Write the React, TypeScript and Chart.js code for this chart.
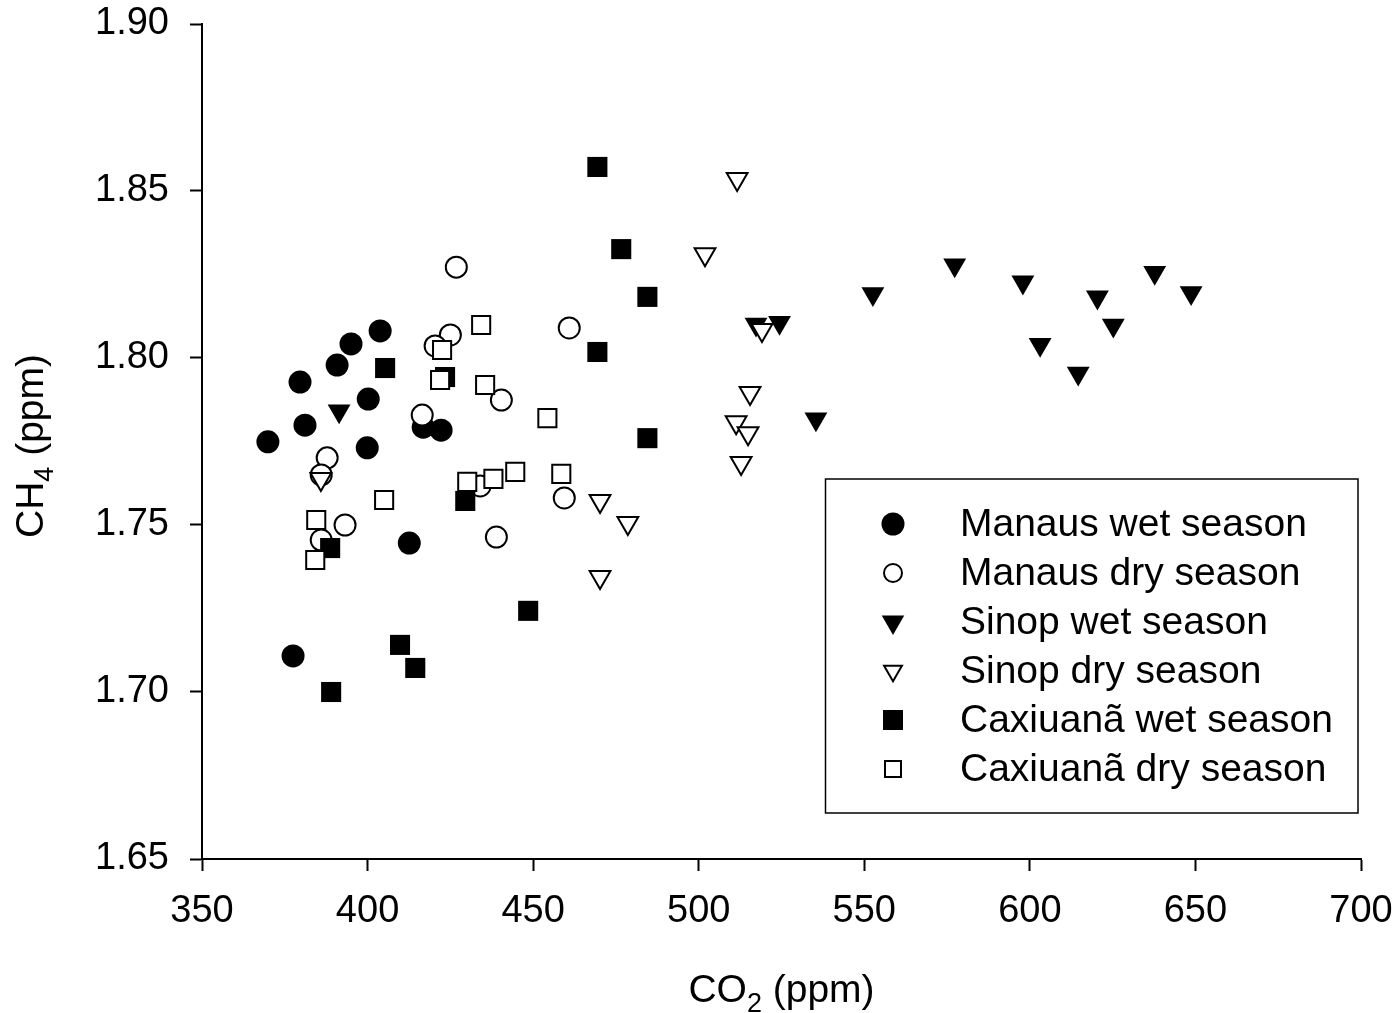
import React, { useEffect, useRef } from "react";
import { Chart, registerables } from "chart.js";

Chart.register(...registerables);

const manausWetX = [369.9, 379.6, 381.1, 390.8, 395.0, 403.8, 400.2, 399.9, 416.8, 422.2, 412.6, 377.5];
const manausWetY = [1.7749, 1.7928, 1.7799, 1.7979, 1.8042, 1.8081, 1.7877, 1.7731, 1.7793, 1.7784, 1.7446, 1.7108];

const manausDryX = [426.8, 460.9, 425.0, 420.4, 416.5, 440.4, 387.8, 386.0, 393.2, 386.0, 434.0, 438.9, 459.4];
const manausDryY = [1.8272, 1.809, 1.8069, 1.8036, 1.7829, 1.7874, 1.7701, 1.765, 1.75, 1.7455, 1.7617, 1.7464, 1.7581];

const sinopWetX = [391.4, 517.3, 524.4, 552.6, 577.3, 597.9, 620.4, 637.7, 648.7, 625.2, 603.1, 614.6, 535.4];
const sinopWetY = [1.7841, 1.8101, 1.8106, 1.8192, 1.8278, 1.8227, 1.8182, 1.8256, 1.8195, 1.8098, 1.804, 1.7954, 1.7817];

const sinopDryX = [511.6, 501.9, 519.1, 515.5, 511.3, 514.9, 512.8, 470.2, 478.6, 470.2, 385.9];
const sinopDryY = [1.8536, 1.8311, 1.8084, 1.7895, 1.7808, 1.7775, 1.7686, 1.7572, 1.7506, 1.7344, 1.7638];

const caxWetX = [469.4, 476.6, 484.5, 469.4, 484.5, 405.3, 423.4, 429.5, 388.7, 448.5, 409.8, 414.4, 389.0];
const caxWetY = [1.8572, 1.8326, 1.8183, 1.8018, 1.776, 1.797, 1.7943, 1.7572, 1.7431, 1.7243, 1.7141, 1.7072, 1.7];

const caxDryX = [434.3, 422.5, 421.9, 435.5, 454.3, 458.5, 444.6, 438.0, 430.1, 405.0, 384.5, 384.2];
const caxDryY = [1.8099, 1.8024, 1.7934, 1.7919, 1.782, 1.7653, 1.7659, 1.7638, 1.7629, 1.7575, 1.7515, 1.7395];

const xTicks = [350, 400, 450, 500, 550, 600, 650, 700];
const yTicks = [1.65, 1.7, 1.75, 1.8, 1.85, 1.9];

const seriesNames = [
  "Manaus wet season",
  "Manaus dry season",
  "Sinop wet season",
  "Sinop dry season",
  "Caxiuanã wet season",
  "Caxiuanã dry season",
];

const FONT = '"Liberation Sans", Arial, sans-serif';

function pts(xs: number[], ys: number[]) {
  return xs.map((x, i) => ({ x, y: ys[i] }));
}

function drawMarker(ctx: CanvasRenderingContext2D, kind: string, filled: boolean, x: number, y: number) {
  ctx.save();
  ctx.beginPath();
  if (kind === "circle") {
    ctx.arc(x, y, filled ? 11.5 : 9, 0, Math.PI * 2);
  } else if (kind === "triangle") {
    const r = filled ? 13 : 10.3;
    const s = r * Math.sin(Math.PI / 3);
    ctx.moveTo(x, y + r);
    ctx.lineTo(x - s, y - r / 2);
    ctx.lineTo(x + s, y - r / 2);
    ctx.closePath();
  } else {
    const h = filled ? 10 : 8;
    ctx.rect(x - h, y - h, 2 * h, 2 * h);
  }
  if (filled) {
    ctx.fillStyle = "#000";
    ctx.fill();
  } else {
    ctx.fillStyle = "#fff";
    ctx.fill();
    ctx.lineWidth = 2;
    ctx.strokeStyle = "#000";
    ctx.stroke();
  }
  ctx.restore();
}

function drawSubTitle(ctx: CanvasRenderingContext2D, main: string, sub: string, rest: string, cx: number, baseline: number) {
  const big = `39px ${FONT}`;
  const small = `27px ${FONT}`;
  ctx.font = big;
  const w1 = ctx.measureText(main).width;
  const w3 = ctx.measureText(rest).width;
  ctx.font = small;
  const w2 = ctx.measureText(sub).width;
  const total = w1 + w2 + w3;
  let x = cx - total / 2;
  ctx.fillStyle = "#000";
  ctx.textBaseline = "alphabetic";
  ctx.textAlign = "left";
  ctx.font = big;
  ctx.fillText(main, x, baseline);
  x += w1;
  ctx.font = small;
  ctx.fillText(sub, x, baseline + 10);
  x += w2;
  ctx.font = big;
  ctx.fillText(rest, x, baseline);
}

const customPlugin = {
  id: "customDecor",
  afterDraw(chart: any) {
    const ctx: CanvasRenderingContext2D = chart.ctx;
    const area = chart.chartArea;
    ctx.save();
    drawSubTitle(ctx, "CO", "2", " (ppm)", (area.left + area.right) / 2, 1002);
    ctx.save();
    ctx.translate(43, 446);
    ctx.rotate(-Math.PI / 2);
    drawSubTitle(ctx, "CH", "4", " (ppm)", 0, 0);
    ctx.restore();

    const bx = 825.5, by = 479, bw = 532.5, bh = 334;
    ctx.fillStyle = "#fff";
    ctx.fillRect(bx, by, bw, bh);
    ctx.lineWidth = 1.5;
    ctx.strokeStyle = "#000";
    ctx.strokeRect(bx, by, bw, bh);
    const kinds = ["circle", "circle", "triangle", "triangle", "rect", "rect"];
    const fills = [true, false, true, false, true, false];
    ctx.font = `39px ${FONT}`;
    ctx.textBaseline = "middle";
    ctx.textAlign = "left";
    for (let i = 0; i < seriesNames.length; i++) {
      const ry = 524 + i * 49;
      drawMarker(ctx, kinds[i], fills[i], 893, ry);
      ctx.fillStyle = "#000";
      ctx.fillText(seriesNames[i], 960, ry + 1);
    }
    ctx.restore();
  },
};

export default function App() {
  const canvasRef = useRef<HTMLCanvasElement | null>(null);

  useEffect(() => {
    document.body.style.margin = "0";
    const canvas = canvasRef.current;
    if (!canvas) return;
    const tickFont = { family: FONT, size: 38 };
    const chart = new Chart(canvas, {
      type: "scatter",
      data: {
        datasets: [
          {
            label: seriesNames[0],
            data: pts(manausWetX, manausWetY),
            pointStyle: "circle",
            pointRadius: 11.5,
            backgroundColor: "#000",
            borderColor: "#000",
            borderWidth: 0,
            order: 6,
          },
          {
            label: seriesNames[1],
            data: pts(manausDryX, manausDryY),
            pointStyle: "circle",
            pointRadius: 10.5,
            backgroundColor: "#fff",
            borderColor: "#000",
            borderWidth: 2,
            order: 5,
          },
          {
            label: seriesNames[2],
            data: pts(sinopWetX, sinopWetY),
            pointStyle: "triangle",
            rotation: 180,
            pointRadius: 13.2,
            backgroundColor: "#000",
            borderColor: "#000",
            borderWidth: 0,
            order: 4,
          },
          {
            label: seriesNames[3],
            data: pts(sinopDryX, sinopDryY),
            pointStyle: "triangle",
            rotation: 180,
            pointRadius: 12,
            backgroundColor: "#fff",
            borderColor: "#000",
            borderWidth: 2,
            order: 3,
          },
          {
            label: seriesNames[4],
            data: pts(caxWetX, caxWetY),
            pointStyle: "rect",
            pointRadius: 14.2,
            backgroundColor: "#000",
            borderColor: "#000",
            borderWidth: 0,
            order: 2,
          },
          {
            label: seriesNames[5],
            data: pts(caxDryX, caxDryY),
            pointStyle: "rect",
            pointRadius: 12.8,
            backgroundColor: "#fff",
            borderColor: "#000",
            borderWidth: 2,
            order: 1,
          },
        ],
      },
      options: {
        animation: false,
        responsive: false,
        maintainAspectRatio: false,
        layout: { padding: { left: 0, top: 24, right: 38, bottom: 0 } },
        plugins: {
          legend: { display: false },
          tooltip: { enabled: false },
          title: { display: false },
        },
        scales: {
          x: {
            type: "linear",
            min: xTicks[0],
            max: xTicks[xTicks.length - 1],
            afterFit: (s: any) => {
              s.height = 154;
              s.paddingLeft = 0;
              s.paddingRight = 0;
              s.paddingTop = 0;
              s.paddingBottom = 0;
            },
            afterBuildTicks: (s: any) => {
              s.ticks = xTicks.map((v) => ({ value: v }));
            },
            ticks: {
              font: tickFont,
              color: "#000",
              padding: 18,
              maxRotation: 0,
              autoSkip: false,
              callback: (v: any) => String(v),
            },
            grid: {
              drawOnChartArea: false,
              drawTicks: true,
              tickLength: 12,
              tickWidth: 2,
              tickColor: "#000",
            },
            border: { display: true, color: "#000", width: 2 },
          },
          y: {
            type: "linear",
            min: yTicks[0],
            max: yTicks[yTicks.length - 1],
            afterFit: (s: any) => {
              s.width = 202;
              s.paddingLeft = 0;
              s.paddingRight = 0;
              s.paddingTop = 0;
              s.paddingBottom = 0;
            },
            afterBuildTicks: (s: any) => {
              s.ticks = yTicks.map((v) => ({ value: v }));
            },
            ticks: {
              font: tickFont,
              color: "#000",
              padding: 21,
              autoSkip: false,
              callback: (v: any) => Number(v).toFixed(2),
            },
            grid: {
              drawOnChartArea: false,
              drawTicks: true,
              tickLength: 12,
              tickWidth: 2,
              tickColor: "#000",
            },
            border: { display: true, color: "#000", width: 2 },
          },
        },
      },
      plugins: [customPlugin],
    });
    return () => chart.destroy();
  }, []);

  return (
    <div style={{ width: 1399, height: 1013, position: "relative", background: "#fff" }}>
      <canvas ref={canvasRef} width={1399} height={1013} style={{ display: "block", width: 1399, height: 1013 }} />
    </div>
  );
}
